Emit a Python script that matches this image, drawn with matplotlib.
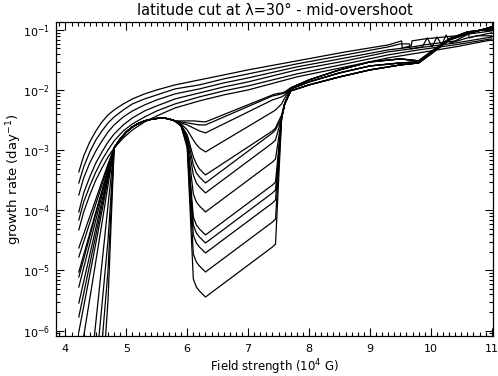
import numpy as np
import matplotlib
matplotlib.use("Agg")
import matplotlib.pyplot as plt
from matplotlib.ticker import MultipleLocator, LogLocator, NullFormatter

# growth rates are kept as log10(day^-1)

# --- upper branch (no dip) ---
b_up = [4.22, 4.3, 4.4, 4.5, 4.6, 4.7, 4.8, 4.95, 5.1, 5.3, 5.5, 5.8,
        6.2, 6.6, 7.0, 7.8, 8.6, 9.3]
up1 = [-3.358, -3.092, -2.858, -2.675, -2.525, -2.408, -2.325, -2.225, -2.142,
       -2.058, -1.992, -1.908, -1.825, -1.742, -1.658, -1.508, -1.358, -1.242]
up2 = [-3.542, -3.275, -3.025, -2.825, -2.675, -2.542, -2.442, -2.325, -2.225,
       -2.142, -2.075, -1.975, -1.908, -1.808, -1.725, -1.558, -1.408, -1.275]
up3 = [-3.742, -3.458, -3.208, -3.008, -2.842, -2.692, -2.575, -2.442, -2.342,
       -2.242, -2.158, -2.058, -1.975, -1.875, -1.792, -1.608, -1.458, -1.325]
up4 = [-4.025, -3.708, -3.442, -3.208, -3.025, -2.858, -2.725, -2.575, -2.458,
       -2.342, -2.258, -2.142, -2.042, -1.942, -1.858, -1.658, -1.508, -1.358]
up5 = [-4.158, -3.858, -3.592, -3.358, -3.158, -2.992, -2.842, -2.675, -2.558,
       -2.442, -2.342, -2.225, -2.108, -2.008, -1.925, -1.725, -1.558, -1.408]
up6 = [-4.325, -4.025, -3.742, -3.492, -3.292, -3.108, -2.958, -2.792, -2.658,
       -2.525, -2.425, -2.292, -2.175, -2.075, -1.992, -1.775, -1.608, -1.458]

# strong-field ends of the upper branch (mode switching shows up as wiggles)
b_end1 = [9.52, 9.53, 9.68, 9.69, 9.9, 10.4, 11.0]
end1 = [-1.175, -1.292, -1.258, -1.175, -1.142, -1.092, -1.008]
b_end2 = [9.5, 9.65, 9.66, 9.86, 9.94, 10.02, 10.1, 10.18, 10.25, 10.32, 10.6, 11.0]
end2 = [-1.225, -1.225, -1.31, -1.275, -1.125, -1.275, -1.11, -1.24, -1.075,
        -1.21, -1.125, -1.04]
b_end3 = [9.7, 9.9, 10.4, 10.62, 10.63, 10.75, 11.0]
end3 = [-1.275, -1.24, -1.175, -1.06, -1.125, -1.09, -1.09]
b_end4 = [9.8, 10.4, 11.0]
end4 = [-1.29, -1.21, -1.11]
end5 = [-1.325, -1.24, -1.14]
end6 = [-1.375, -1.275, -1.158]

# --- dip branch ---
# weak-field onset, one per run
left_b1 = [4.22, 4.5, 4.7]
left1 = [-4.625, -3.81, -3.225]
left2 = [-4.775, -3.89, -3.258]
left3 = [-5.025, -4.025, -3.308]
left4 = [-5.108, -4.058, -3.325]
left5 = [-5.275, -4.158, -3.342]
left6 = [-5.542, -4.292, -3.392]
left7 = [-5.775, -4.408, -3.425]
left8 = [-6.025, -4.542, -3.475]
left9 = [-6.6, -4.842, -3.575]
left_b10 = [4.4, 4.7]
left10 = [-6.83, -3.91]
left_b11 = [4.5, 4.7]
left11 = [-6.66, -4.49]
left_b12 = [4.55, 4.7]
left12 = [-6.83, -4.99]
left_b13 = [4.6, 4.7]
left13 = [-6.99, -5.49]

# shared maximum around 5.6e4 G
b_hump = [4.8, 4.9, 5.0, 5.1, 5.2, 5.3, 5.4, 5.5, 5.6, 5.7, 5.8]
hump = [-2.958, -2.808, -2.692, -2.608, -2.55, -2.508, -2.483, -2.467,
        -2.458, -2.475, -2.508]

# the stable window between ~6 and 7.5e4 G
b_dip = [5.9, 6.0, 6.1, 6.15, 6.2, 6.3, 7.4, 7.45, 7.55, 7.6]
dip1 = [-2.508, -2.508, -2.508, -2.512, -2.517, -2.525, -2.075, -2.058, -2.042, -2.025]
dip2 = [-2.525, -2.542, -2.558, -2.567, -2.575, -2.575, -2.092, -2.083, -2.058, -2.042]
dip3 = [-2.542, -2.575, -2.625, -2.65, -2.675, -2.708, -2.158, -2.142, -2.108, -2.075]
dip4 = [-2.558, -2.658, -2.825, -2.9, -2.958, -3.025, -2.358, -2.325, -2.225, -2.125]
dip5 = [-2.575, -2.742, -3.108, -3.225, -3.308, -3.408, -2.675, -2.625, -2.408, -2.208]
dip6 = [-2.592, -2.758, -3.242, -3.375, -3.442, -3.542, -2.708, -2.658, -2.458, -2.225]
dip7 = [-2.592, -2.792, -3.408, -3.542, -3.608, -3.708, -2.875, -2.825, -2.458, -2.225]
dip8 = [-2.592, -2.825, -3.725, -3.858, -3.925, -4.025, -3.192, -3.142, -2.458, -2.225]
dip9 = [-2.592, -2.858, -4.108, -4.242, -4.308, -4.408, -3.575, -3.525, -2.458, -2.225]
dip10 = [-2.592, -2.875, -4.242, -4.375, -4.442, -4.542, -3.708, -3.658, -2.458, -2.225]
dip11 = [-2.592, -2.892, -4.408, -4.542, -4.608, -4.708, -3.875, -3.825, -2.458, -2.225]
dip12 = [-2.592, -2.925, -4.725, -4.858, -4.925, -5.025, -4.192, -4.142, -2.458, -2.225]
dip13 = [-2.592, -2.958, -5.142, -5.275, -5.342, -5.442, -4.608, -4.558, -2.458, -2.225]

# strong-field tail
b_tail = [7.7, 8.0, 8.5, 9.0, 9.5, 9.8, 10.0, 10.3, 10.6, 11.0]
tail_a = [-2.008, -1.908, -1.775, -1.658, -1.575, -1.542, -1.392, -1.158, -1.058, -0.942]
tail_b = [-1.975, -1.858, -1.708, -1.592, -1.542, -1.525, -1.375, -1.158, -1.042, -0.958]
tail_c = [-1.958, -1.825, -1.658, -1.525, -1.475, -1.508, -1.358, -1.142, -1.025, -0.975]

upper_runs = [
    (up1, b_end1, end1), (up2, b_end2, end2), (up3, b_end3, end3),
    (up4, b_end4, end4), (up5, b_end4, end5), (up6, b_end4, end6),
]
dip_runs = [
    (left_b1, left1, dip1, tail_c), (left_b1, left2, dip2, tail_c),
    (left_b1, left3, dip3, tail_c), (left_b1, left4, dip4, tail_c),
    (left_b1, left5, dip5, tail_b), (left_b1, left6, dip6, tail_b),
    (left_b1, left7, dip7, tail_b), (left_b1, left8, dip8, tail_b),
    (left_b1, left9, dip9, tail_a), (left_b10, left10, dip10, tail_a),
    (left_b11, left11, dip11, tail_a), (left_b12, left12, dip12, tail_a),
    (left_b13, left13, dip13, tail_a),
]

fig = plt.figure(figsize=(4.98, 3.76), dpi=100)
ax = fig.add_axes([0.1124, 0.1064, 0.8775, 0.8351])

lw = 0.9
for main, b_e, g_e in upper_runs:
    b = np.concatenate([b_up, b_e])
    g = np.concatenate([main, g_e])
    ax.plot(b, 10.0 ** g, color="black", lw=lw)

for b_l, g_l, g_d, g_t in dip_runs:
    b = np.concatenate([b_l, b_hump, b_dip, b_tail])
    g = np.concatenate([g_l, hump, g_d, g_t])
    ax.plot(b, 10.0 ** g, color="black", lw=lw)

ax.set_yscale("log")
ax.set_xlim(3.845, 11.02)
ax.set_ylim(8.1e-7, 0.138)

ax.xaxis.set_major_locator(MultipleLocator(1))
ax.xaxis.set_minor_locator(MultipleLocator(0.1))
ax.yaxis.set_major_locator(LogLocator(base=10, numticks=10))
ax.yaxis.set_minor_locator(LogLocator(base=10, subs=np.arange(2, 10), numticks=20))
ax.yaxis.set_minor_formatter(NullFormatter())
ax.tick_params(which="both", direction="in", top=True, right=True,
               width=0.8, labelsize=8, colors="black")
ax.tick_params(which="major", length=6)
ax.tick_params(which="minor", length=3)
ax.tick_params(axis="x", pad=6)
ax.tick_params(axis="y", pad=4)
for s in ax.spines.values():
    s.set_linewidth(0.9)

ax.set_xlabel("Field strength (10$^4$ G)", fontsize=8.5)
ax.xaxis.set_label_coords(0.5, -0.068)
ax.set_ylabel("growth rate (day$^{-1}$)", fontsize=9.5)
ax.yaxis.set_label_coords(-0.074, 0.5)
ax.set_title("latitude cut at \u03bb=30\u00b0 - mid-overshoot", fontsize=10.5, pad=5)

fig.savefig("out.png", dpi=100)
